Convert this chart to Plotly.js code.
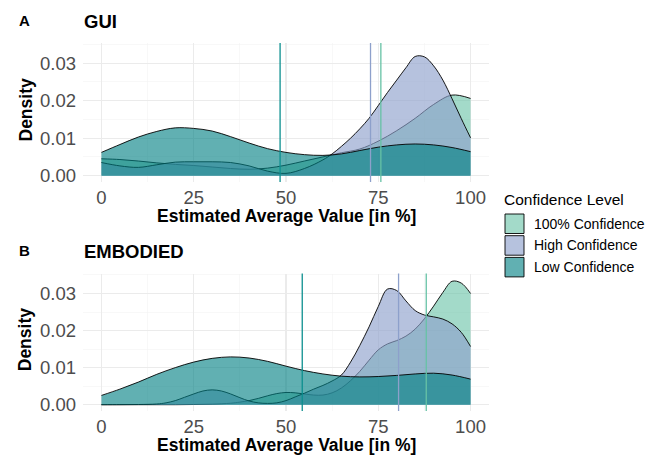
<!DOCTYPE html>
<html><head><meta charset="utf-8">
<script src="https://cdn.plot.ly/plotly-3.0.1.min.js"></script>
<style>html,body{margin:0;padding:0;background:#fff}#chart{width:655px;height:460px}</style>
</head><body><div id="chart"></div>
<script>
// ---------- data (density values in 0.001 units) ----------
const categories = ["100% Confidence", "High Confidence", "Low Confidence"];
const panelTags = ["A", "B"];
const panelNames = ["GUI", "EMBODIED"];
const xTickVals = [0, 25, 50, 75, 100];
const yTickVals = [0, 0.01, 0.02, 0.03];

const gui_full_x = [0,5,10,15,20,25,30,35,40,45,50,55,60,65,70,75,80,85,90,95,100];
const gui_full_y = [4.5,4.3,3.9,3.4,3.0,2.7,2.3,1.9,1.7,2.0,2.8,3.9,5.0,6.1,7.1,9.2,12.0,15.3,19.0,21.5,20.6];
const gui_high_x = [0,5,10,15,20,25,30,35,40,45,50,55,60,62.5,65,67.5,70,72.5,75,77.5,80,82.5,85,87.5,90,92.5,95,97.5,100];
const gui_high_y = [3.5,2.6,2.2,2.9,3.6,3.7,3.7,3.5,2.6,1.2,0.6,1.9,4.2,5.8,7.8,10.0,12.5,15.3,18.7,22.2,25.5,28.8,31.8,31.7,29.3,25.5,20.5,15.2,10.1];
const gui_low_x = [0,5,10,15,20,25,30,35,40,45,50,55,60,65,70,75,80,85,90,95,100];
const gui_low_y = [6.2,8.3,10.3,11.8,12.75,12.6,11.9,10.4,8.7,7.2,6.2,5.6,5.4,5.8,6.7,7.6,8.2,8.45,8.2,7.5,6.4];
const gui_means = [75.7, 72.9, 48.4];

const emb_full_x = [0,5,10,15,20,25,30,35,37.5,40,42.5,45,47.5,50,52.5,55,57.5,60,62.5,65,67.5,70,72.5,75,77.5,80,82.5,85,87.5,90,92.5,95,97.5,100];
const emb_full_y = [0,0,0,0,0,0.05,0.15,0.4,0.7,1.1,1.7,2.4,3.0,3.3,3.2,2.9,2.6,2.6,3.2,4.5,6.5,9.0,12.0,14.8,16.4,17.3,18.5,20.4,23.2,26.6,30.3,33.3,32.8,30.0];
const emb_high_x = [0,5,10,15,17.5,20,22.5,25,27.5,30,32.5,35,37.5,40,42.5,45,47.5,50,52.5,55,57.5,60,62.5,65,67.5,70,72.5,75,77.5,80,82.5,85,87.5,90,92.5,95,97.5,100];
const emb_high_y = [0,0.02,0.05,0.2,0.5,1.1,2.0,2.9,3.7,4.0,3.7,2.9,1.9,1.0,0.5,0.35,0.5,1.1,2.1,3.1,4.2,5.2,6.4,8.0,11.5,16.0,21.0,26.5,31.2,30.8,28.0,25.4,24.2,23.7,23.1,21.8,19.5,15.7];
const emb_low_x = [0,5,10,15,20,25,30,35,40,45,50,55,60,65,70,75,80,85,90,95,100];
const emb_low_y = [2.5,4.2,6.1,8.2,10.0,11.5,12.5,12.9,12.6,11.7,10.4,9.2,8.3,7.7,7.5,7.6,7.9,8.3,8.5,8.0,6.9];
const emb_means = [88.0, 80.5, 54.4];

// ---------- styles ----------
const lineColors = ["#66c2a5", "#8da0cb", "#0c8f8f"];
const fillColors = ["rgba(102,194,165,0.6)", "rgba(141,160,203,0.64)", "rgba(0,128,130,0.62)"];
const FONT = "Liberation Sans, Arial, Helvetica, sans-serif";
const W = 655, H = 460, ML = 83, MR = 166, MT = 43, MB = 49;
const PW = W - ML - MR, PH = H - MT - MB;
const px = v => (v - ML) / PW;          // page px -> paper x
const py = v => (H - MB - v) / PH;      // page px -> paper y
const yRange = [-0.0017, 0.0354];

const panels = [
  {xs: [gui_full_x, gui_high_x, gui_low_x], ys: [gui_full_y, gui_high_y, gui_low_y], means: gui_means, top: 43, bottom: 182},
  {xs: [emb_full_x, emb_high_x, emb_low_x], ys: [emb_full_y, emb_high_y, emb_low_y], means: emb_means, top: 273.5, bottom: 411}
];

const traces = [], shapes = [], annotations = [];
const layout = {
  width: W, height: H, margin: {l: ML, r: MR, t: MT, b: MB, pad: 0},
  paper_bgcolor: "#fff", plot_bgcolor: "#fff", showlegend: false,
  font: {family: FONT, color: "#000"}
};

panels.forEach((p, i) => {
  const sfx = i === 0 ? "" : "2";
  categories.forEach((c, k) => {
    traces.push({
      type: "scatter", mode: "lines", name: c,
      x: p.xs[k], y: p.ys[k].map(v => v / 1000),
      xaxis: "x" + sfx, yaxis: "y" + sfx,
      fill: "tozeroy", fillcolor: fillColors[k],
      line: {color: "#000", width: 0.9, shape: "spline", smoothing: 1},
      hoverinfo: "skip"
    });
    shapes.push({
      type: "line", xref: "x" + sfx, yref: "y" + sfx + " domain",
      x0: p.means[k], x1: p.means[k], y0: 0, y1: 1,
      line: {color: lineColors[k], width: 1.3}, layer: "above"
    });
  });
  const axX = {
    domain: [0, 1], range: [-5, 105], anchor: "y" + sfx,
    tickmode: "array", tickvals: xTickVals, ticktext: xTickVals.map(String),
    showgrid: true, gridcolor: "#ebebeb", gridwidth: 1.1,
    minor: {tickmode: "array", tickvals: [12.5, 37.5, 62.5, 87.5], showgrid: true, gridcolor: "#f4f4f4", gridwidth: 0.6},
    zeroline: false, showline: false, ticks: "", ticklabelstandoff: 2,
    tickfont: {family: FONT, size: 18.5, color: "#4d4d4d"}, fixedrange: true
  };
  const axY = {
    domain: [py(p.bottom), py(p.top)], range: yRange, anchor: "x" + sfx,
    tickmode: "array", tickvals: yTickVals, ticktext: yTickVals.map(v => v.toFixed(2)),
    showgrid: true, gridcolor: "#ebebeb", gridwidth: 1.1,
    minor: {tickmode: "array", tickvals: [0.005, 0.015, 0.025, 0.035], showgrid: true, gridcolor: "#f4f4f4", gridwidth: 0.6},
    zeroline: false, showline: false, ticks: "", ticklabelstandoff: 6,
    tickfont: {family: FONT, size: 18.5, color: "#4d4d4d"}, fixedrange: true
  };
  layout["xaxis" + sfx] = axX;
  layout["yaxis" + sfx] = axY;

  const tagY = i === 0 ? 20 : 250;
  annotations.push({xref: "paper", yref: "paper", x: px(16.5), y: py(tagY), xanchor: "left", yanchor: "middle",
    text: "<b>" + panelTags[i] + "</b>", showarrow: false, font: {family: FONT, size: 15, color: "#000"}});
  annotations.push({xref: "paper", yref: "paper", x: px(82), y: py(tagY + 1.5), xanchor: "left", yanchor: "middle",
    text: "<b>" + panelNames[i] + "</b>", showarrow: false, font: {family: FONT, size: 18.5, color: "#000"}});
  annotations.push({xref: "paper", yref: "paper", x: px(286), y: py(p.bottom + 34), xanchor: "center", yanchor: "middle",
    text: "<b>Estimated Average Value [in %]</b>", showarrow: false, font: {family: FONT, size: 17.5, color: "#000"}});
  annotations.push({xref: "paper", yref: "paper", x: px(25), y: py((p.top + p.bottom) / 2 - 2), xanchor: "center", yanchor: "middle",
    textangle: -90, text: "<b>Density</b>", showarrow: false, font: {family: FONT, size: 17.5, color: "#000"}});
});

// ---------- legend (manual, ggplot style) ----------
annotations.push({xref: "paper", yref: "paper", x: px(502), y: py(200), xanchor: "left", yanchor: "middle",
  text: "Confidence Level", showarrow: false, font: {family: FONT, size: 15.5, color: "#000"}});
categories.forEach((c, k) => {
  const top = 214 + k * 21.7;
  shapes.push({type: "rect", xref: "paper", yref: "paper", x0: px(505), x1: px(524), y0: py(top + 19.5), y1: py(top),
    fillcolor: fillColors[k], line: {color: "#000", width: 0.9}, layer: "above"});
  annotations.push({xref: "paper", yref: "paper", x: px(532), y: py(top + 9.5), xanchor: "left", yanchor: "middle",
    text: c, showarrow: false, font: {family: FONT, size: 14, color: "#000"}});
});

layout.shapes = shapes;
layout.annotations = annotations;
Plotly.newPlot("chart", traces, layout, {displayModeBar: false, staticPlot: true});
</script></body></html>
